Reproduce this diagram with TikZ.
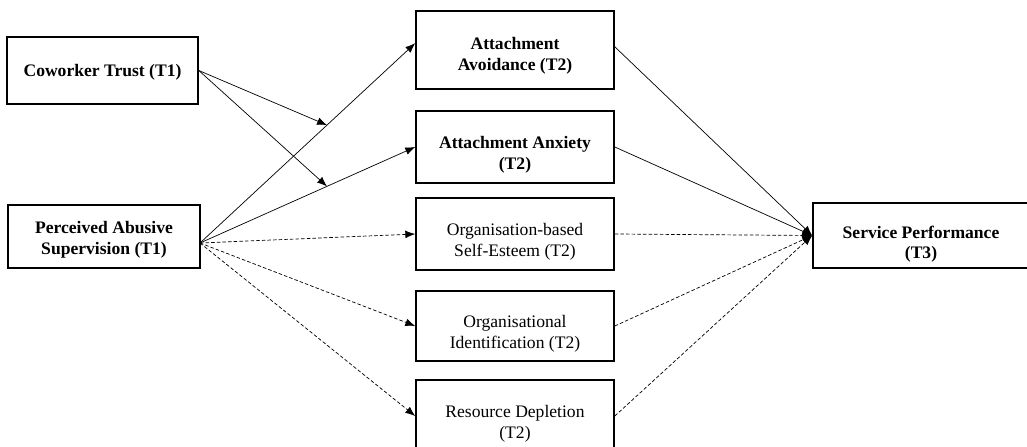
\documentclass[tikz,border=0pt]{standalone}
\usepackage{fontspec}
\setmainfont{Liberation Serif}
\usetikzlibrary{arrows.meta}

\newcommand{\drop}[1]{\rule{0pt}{#1}}

\begin{document}
\begin{tikzpicture}[x=0.025cm,y=-0.025cm,
  box/.style={draw,line width=1.1pt,align=center,inner sep=2pt,font=\fontsize{12.5}{14.5}\selectfont},
  boldbox/.style={box,font=\fontsize{12.5}{14.5}\selectfont\bfseries},
  midbox/.style={minimum width=4.95cm,minimum height=#1},
  link/.style={line width=0.5pt,-{Latex[length=7pt,width=5.5pt]}},
  dlink/.style={link,dash pattern=on 2.5pt off 1.5pt}]

\useasboundingbox (0,0) rectangle (1027,447);

% time 1
\node[boldbox,minimum width=4.775cm,minimum height=1.675cm] (trust) at (102.5,70.5) {\drop{11pt}Coworker Trust (T1)};
\node[boldbox,minimum width=4.8cm,minimum height=1.575cm] (abuse) at (104,236.5) {\drop{13.5pt}Perceived Abusive\\Supervision (T1)};

% time 2
\node[boldbox,midbox=1.95cm] (avoid) at (515,50) {\drop{17pt}Attachment\\Avoidance (T2)};
\node[boldbox,midbox=1.8cm] (anxiety) at (515,147) {\drop{20pt}Attachment Anxiety\\(T2)};
\node[box,midbox=1.8cm] (obse) at (515,234) {\drop{20pt}Organisation-based\\Self-Esteem (T2)};
\node[box,midbox=1.75cm] (ident) at (515,326) {\drop{20pt}Organisational\\Identification (T2)};
\node[box,midbox=1.8cm] (deplete) at (515,416) {\drop{20pt}Resource Depletion\\(T2)};

% time 3
\node[boldbox,minimum width=5.4cm,minimum height=1.625cm] (service) at (921,235.5) {\drop{21pt}Service Performance\\(T3)};

\coordinate (abuseout) at (200,243);

\draw[link] (abuseout) -- coordinate[pos=0.59] (mod1) ([yshift=0.17cm]avoid.west);
\draw[link] (abuseout) -- coordinate[pos=0.59] (mod2) (anxiety.west);
\draw[dlink] (abuseout) -- (obse.west);
\draw[dlink] (abuseout) -- (ident.west);
\draw[dlink] (abuseout) -- (deplete.west);

\draw[link] (trust.east) -- (mod1);
\draw[link] (trust.east) -- (mod2);

\draw[link] ([yshift=0.08cm]avoid.east) -- (service.west);
\draw[link] (anxiety.east) -- (service.west);
\draw[dlink] (obse.east) -- (service.west);
\draw[dlink] (ident.east) -- (service.west);
\draw[dlink] (deplete.east) -- (service.west);

\end{tikzpicture}
\end{document}
